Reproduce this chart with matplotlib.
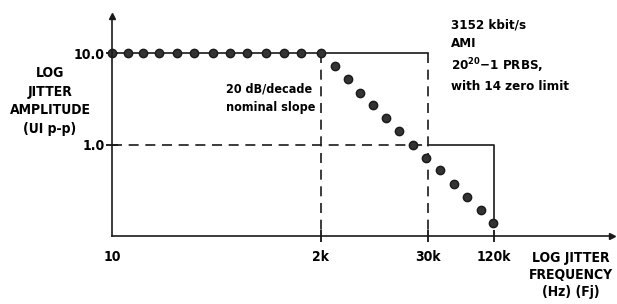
import numpy as np
import matplotlib.pyplot as plt

plt.rcParams['font.family'] = ['DejaVu Sans']
plt.rcParams['font.stretch'] = 'condensed'
plt.rcParams['font.weight'] = 'bold'
plt.rcParams['mathtext.default'] = 'regular'

# jitter tolerance points
freq_flat = [10, 15, 22, 33, 52, 80, 130, 200, 310, 500, 780, 1200, 2000]
amp_flat = [10.0] * len(freq_flat)
freq_slope = [2850, 4000, 5400, 7500, 10400, 14400, 20500, 28500,
              38600, 51800, 68000, 91400, 118000]
amp_slope = [7.2, 5.2, 3.7, 2.7, 1.93, 1.39, 0.98, 0.72,
             0.52, 0.37, 0.27, 0.19, 0.14]

tick_freqs = [10, 2000, 30000, 120000]
tick_labels = ['10', '2k', '30k', '120k']
amp_ticks = [10.0, 1.0]
amp_labels = ['10.0', '1.0']

# the sketch is not a true log axis, so map the ticks the way it was drawn
knot_log = np.log10([1, 10, 2000, 30000, 120000, 1e8])
knot_pos = [-91, 0, 209, 316, 382, 382 + (8 - np.log10(120000)) * 109.6]

def fwd(x):
    x = np.clip(np.asarray(x, dtype=float), 1e-300, None)
    return np.interp(np.log10(x), knot_log, knot_pos)

def inv(u):
    return 10 ** np.interp(np.asarray(u, dtype=float), knot_pos, knot_log)

fig = plt.figure(figsize=(6.17, 3.04), dpi=100)
ax = fig.add_axes([112 / 617, 68 / 304, 500 / 617, 220 / 304])
ax.set_xscale('function', functions=(fwd, inv))
ax.set_yscale('log')
ax.set_xlim(10, float(inv(500)))
ax.set_ylim(0.1, 25.4)

lc = '#1a1a1a'
lw = 1.2
dash = (0, (6, 4))

# mask
ax.plot([10, 30000], [10, 10], color=lc, lw=lw)
ax.plot([30000, 120000, 120000], [1, 1, 0.14], color=lc, lw=lw)
ax.plot([30000, 30000], [10, 0.1], color=lc, lw=lw, ls=dash)
ax.plot([2000, 2000], [10, 0.1], color=lc, lw=lw, ls=dash)
ax.plot([10, 30000], [1, 1], color=lc, lw=lw, ls=dash)

ax.plot(freq_flat, amp_flat, 'o', color='#333333', mec=lc, ms=6, clip_on=False)
ax.plot(freq_slope, amp_slope, 'o', color='#333333', mec=lc, ms=6, clip_on=False)

for s in ['top', 'right']:
    ax.spines[s].set_visible(False)
for s in ['left', 'bottom']:
    ax.spines[s].set_linewidth(lw)
    ax.spines[s].set_color(lc)
ax.plot(1, 0, '>', color=lc, ms=5, transform=ax.transAxes, clip_on=False)
ax.plot(0, 1, '^', color=lc, ms=5, transform=ax.transAxes, clip_on=False)

ax.set_xticks(tick_freqs, tick_labels)
ax.set_yticks(amp_ticks, amp_labels)
ax.minorticks_off()
ax.tick_params(axis='x', direction='inout', length=8, width=lw, pad=6, labelsize=10)
ax.tick_params(axis='y', direction='inout', length=8, width=lw, pad=1, labelsize=10)
ax.xaxis.get_major_ticks()[0].tick1line.set_visible(False)

fig.text(50 / 617, 1 - 101 / 304, 'LOG\nJITTER\nAMPLITUDE\n(UI p-p)', ha='center',
         va='center', fontsize=10, linespacing=1.45)
fig.text(571 / 617, 1 - 275 / 304, 'LOG JITTER\nFREQUENCY\n(Hz) (Fj)', ha='center',
         va='center', fontsize=10, linespacing=1.25)
fig.text(226 / 617, 1 - 98 / 304, '20 dB/decade\nnominal slope', ha='left',
         va='center', fontsize=9, linespacing=1.6)
fig.text(451 / 617, 1 - 56 / 304, '3152 kbit/s\nAMI\n20$^{20}$\u22121 PRBS,\nwith 14 zero limit',
         ha='left', va='center', fontsize=9.5, linespacing=1.5)

fig.savefig('out.png', dpi=100)
